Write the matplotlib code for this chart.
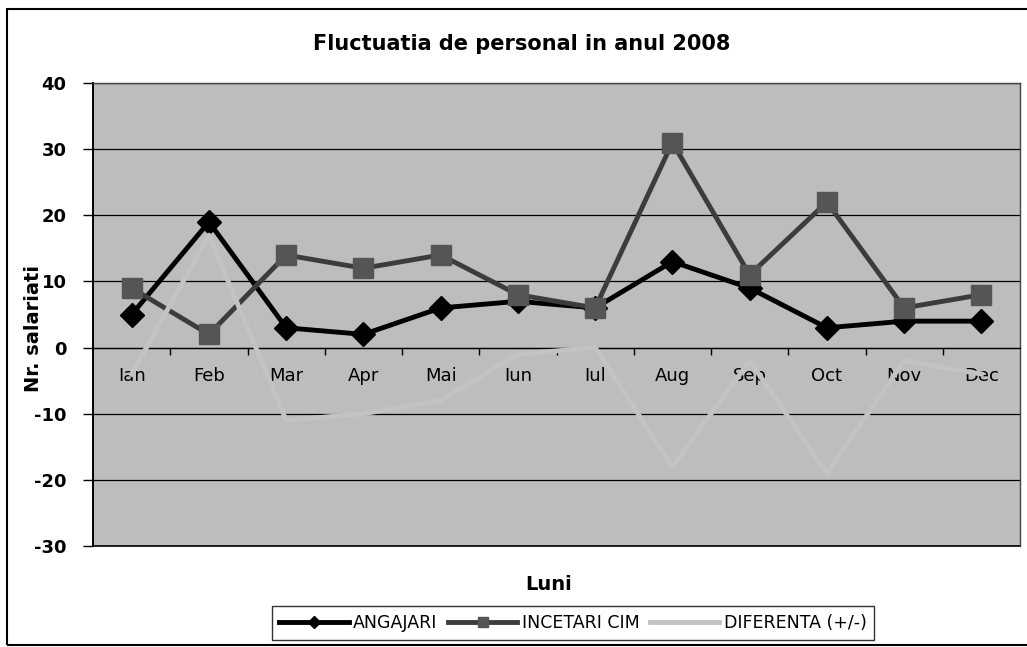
import matplotlib.pyplot as plt
from matplotlib.patches import Rectangle

plt.rcParams["font.family"] = ["DejaVu Sans"]

# Data
luni = ["Ian", "Feb", "Mar", "Apr", "Mai", "Iun", "Iul", "Aug", "Sep", "Oct", "Nov", "Dec"]
angajari = [5, 19, 3, 2, 6, 7, 6, 13, 9, 3, 4, 4]
incetari = [9, 2, 14, 12, 14, 8, 6, 31, 11, 22, 6, 8]
diferenta = [-4, 17, -11, -10, -8, -1, 0, -18, -2, -19, -2, -4]
y_ticks = [-30, -20, -10, 0, 10, 20, 30, 40]


def main() -> None:
    fig = plt.figure(figsize=(10.27, 6.47), dpi=100)
    ax = fig.add_axes([0.0906, 0.156, 0.9026, 0.7157])
    ax.set_facecolor("#bdbdbd")

    x = list(range(len(luni)))

    # Gridlines
    for v in y_ticks:
        ax.axhline(v, color="black", lw=0.9, zorder=1)
    ax.axhline(-30, color="black", lw=1.2, zorder=1, clip_on=False)

    ax.plot(x, angajari, color="black", lw=3.5, marker="D", ms=12,
            markerfacecolor="black", markeredgecolor="black", label="ANGAJARI", zorder=3)
    ax.plot(x, incetari, color="#3c3c3c", lw=3.5, marker="s", ms=14,
            markerfacecolor="#555555", markeredgecolor="#555555", label="INCETARI CIM", zorder=3)
    # light grey series, almost the same tone as the plot background
    ax.plot(x, diferenta, color="#c3c3c3", lw=3.5, label="DIFERENTA (+/-)", zorder=4)

    ax.set_xlim(-0.5, len(luni) - 0.5)
    ax.set_ylim(-30, 40)
    ax.set_yticks(y_ticks)
    ax.set_yticklabels([str(v) for v in y_ticks], fontsize=13, fontweight="bold")
    ax.tick_params(axis="y", direction="out", length=7, width=1, pad=12)

    # Category axis crossing at zero
    ax.spines["bottom"].set_position(("data", 0))
    ax.spines["bottom"].set_color("black")
    ax.spines["bottom"].set_linewidth(0.9)
    ax.set_xticks(x)
    ax.set_xticklabels(luni, fontsize=13)
    ax.set_xticks([i + 0.5 for i in x[:-1]], minor=True)
    ax.tick_params(axis="x", which="major", length=0, pad=14)
    ax.tick_params(axis="x", which="minor", direction="out", length=5, width=1)

    ax.spines["left"].set_color("black")
    ax.spines["left"].set_linewidth(1.4)
    for s in ["top", "right"]:
        ax.spines[s].set_color("#444444")
        ax.spines[s].set_linewidth(1.0)

    fig.text(0.508, 0.932, "Fluctuatia de personal in anul 2008",
             ha="center", va="center", fontsize=15, fontweight="bold")
    fig.text(0.033, 0.493, "Nr. salariati", rotation=90,
             ha="center", va="center", fontsize=14, fontweight="bold")
    fig.text(0.534, 0.096, "Luni", ha="center", va="center",
             fontsize=14, fontweight="bold")

    leg = fig.legend(loc="center", bbox_to_anchor=(0.558, 0.037), ncol=3,
                     fontsize=12.5, frameon=True, fancybox=False, handlelength=4.0,
                     handletextpad=0.25, columnspacing=0.6, borderpad=0.45,
                     markerscale=0.5)
    leg.get_frame().set_edgecolor("black")
    leg.get_frame().set_linewidth(1.0)

    # Outer chart border
    fig.patches.append(Rectangle((7, 2), 1040, 636, transform=None, fill=False,
                                 edgecolor="black", lw=1.5))

    fig.savefig("out.png", dpi=100, facecolor="white")
    plt.close(fig)


if __name__ == "__main__":
    main()
